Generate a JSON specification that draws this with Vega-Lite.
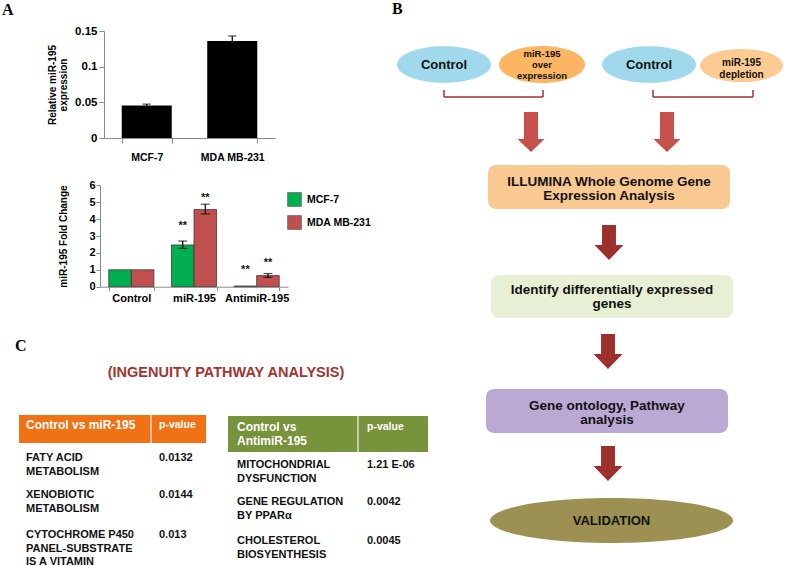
{
  "$schema": "https://vega.github.io/schema/vega-lite/v6.json",
  "width": 787,
  "height": 566,
  "padding": 0,
  "autosize": {"type": "none"},
  "background": "#ffffff",
  "config": {"font": "Liberation Sans", "view": {"stroke": null}, "axis": {"grid": false}},
  "resolve": {"scale": {"x": "independent", "y": "independent"}},
  "layer": [
    {
      "encoding": {
        "x": {"field": "x", "type": "quantitative", "scale": {"domain": [0, 787], "range": [0, 787], "nice": false, "zero": false}, "axis": null},
        "y": {"field": "y", "type": "quantitative", "scale": {"domain": [0, 566], "range": [0, 566], "nice": false, "zero": false}, "axis": null}
      },
      "layer": [
        {"data": {"values": [{"x": 488, "x2": 730, "y": 165, "y2": 209}]},
         "mark": {"type": "rect", "color": "#fac891", "cornerRadius": 8},
         "encoding": {"x2": {"field": "x2"}, "y2": {"field": "y2"}}},
        {"data": {"values": [{"x": 491, "x2": 733, "y": 275, "y2": 318}]},
         "mark": {"type": "rect", "color": "#e7f0d4", "cornerRadius": 8},
         "encoding": {"x2": {"field": "x2"}, "y2": {"field": "y2"}}},
        {"data": {"values": [{"x": 486, "x2": 728, "y": 389, "y2": 433}]},
         "mark": {"type": "rect", "color": "#bba9d4", "cornerRadius": 8},
         "encoding": {"x2": {"field": "x2"}, "y2": {"field": "y2"}}},
        {"data": {"values": [{"x": 19, "x2": 206, "y": 415, "y2": 443}]},
         "mark": {"type": "rect", "color": "#f07215"},
         "encoding": {"x2": {"field": "x2"}, "y2": {"field": "y2"}}},
        {"data": {"values": [{"x": 228, "x2": 428, "y": 416, "y2": 452}]},
         "mark": {"type": "rect", "color": "#77933c"},
         "encoding": {"x2": {"field": "x2"}, "y2": {"field": "y2"}}},
        {"data": {"values": [{"x": 151, "x2": 151, "y": 415, "y2": 443}, {"x": 358, "x2": 358, "y": 416, "y2": 452}]},
         "mark": {"type": "rule", "color": "#f4f4f4", "strokeWidth": 1.2},
         "encoding": {"x2": {"field": "x2"}, "y2": {"field": "y2"}}},
        {"data": {"values": [
          {"x": 444, "x2": 543, "y": 97, "y2": 97},
          {"x": 444, "x2": 444, "y": 90, "y2": 97},
          {"x": 543, "x2": 543, "y": 90, "y2": 97},
          {"x": 653, "x2": 753, "y": 97, "y2": 97},
          {"x": 653, "x2": 653, "y": 90, "y2": 97},
          {"x": 753, "x2": 753, "y": 90, "y2": 97}]},
         "mark": {"type": "rule", "color": "#a3312d", "strokeWidth": 1.5},
         "encoding": {"x2": {"field": "x2"}, "y2": {"field": "y2"}}},
        {"data": {"values": [{"x": 444, "y": 64.5, "t": "Control"}, {"x": 649, "y": 64.5, "t": "Control"}]},
         "mark": {"type": "point", "filled": true, "opacity": 1, "color": "#a1d9ec", "size": 8836, "shape": "M-1,0A1,0.39,0,0,1,1,0A1,0.39,0,0,1,-1,0Z"}},
        {"data": {"values": [{"x": 542, "y": 64.5, "t": "miR-195 over expression"}]},
         "mark": {"type": "point", "filled": true, "opacity": 1, "color": "#fcb563", "size": 7396, "shape": "M-1,0A1,0.43,0,0,1,1,0A1,0.43,0,0,1,-1,0Z"}},
        {"data": {"values": [{"x": 741.5, "y": 65.5, "t": "miR-195 depletion"}]},
         "mark": {"type": "point", "filled": true, "opacity": 1, "color": "#fdca92", "size": 6889, "shape": "M-1,0A1,0.4,0,0,1,1,0A1,0.4,0,0,1,-1,0Z"}},
        {"data": {"values": [{"x": 611.5, "y": 520.5, "t": "VALIDATION"}]},
         "mark": {"type": "point", "filled": true, "opacity": 1, "color": "#9c9153", "size": 59049, "shape": "M-1,0A1,0.185,0,0,1,1,0A1,0.185,0,0,1,-1,0Z"}},
        {"data": {"values": [{"x": 531, "y": 132}, {"x": 667, "y": 132}]},
         "mark": {"type": "point", "filled": true, "opacity": 1, "color": "#c6504c", "size": 729, "shape": "M-0.52,-1.48L0.52,-1.48L0.52,0.52L1,0.52L0,1.48L-1,0.52L-0.52,0.52Z"}},
        {"data": {"values": [{"x": 609, "y": 242.5}, {"x": 608, "y": 351.5}, {"x": 608, "y": 463.5}]},
         "mark": {"type": "point", "filled": true, "opacity": 1, "color": "#9b302c", "size": 841, "shape": "M-0.48,-1.21L0.48,-1.21L0.48,0.17L1,0.17L0,1.21L-1,0.17L-0.48,0.17Z"}},
        {"data": {"values": [{"x": 2, "y": 15, "t": "A"}, {"x": 392, "y": 14, "t": "B"}, {"x": 15, "y": 351, "t": "C"}]},
         "mark": {"type": "text", "font": "Liberation Serif", "fontSize": 16, "fontWeight": "bold", "align": "left", "baseline": "alphabetic", "color": "#000"},
         "encoding": {"text": {"field": "t"}}},
        {"data": {"values": [{"x": 444, "y": 64.5, "t": "Control"}, {"x": 649, "y": 64.5, "t": "Control"}, {"x": 611.5, "y": 520.5, "t": "VALIDATION"}]},
         "mark": {"type": "text", "fontSize": 13, "fontWeight": "bold", "align": "center", "baseline": "middle", "color": "#111"},
         "encoding": {"text": {"field": "t"}}},
        {"data": {"values": [{"x": 542, "y": 49, "t": "miR-195\nover\nexpression"}]},
         "mark": {"type": "text", "fontSize": 9.5, "lineHeight": 11, "lineBreak": "\n", "fontWeight": "bold", "align": "center", "baseline": "top", "color": "#111"},
         "encoding": {"text": {"field": "t"}}},
        {"data": {"values": [{"x": 741.5, "y": 58, "t": "miR-195\ndepletion"}]},
         "mark": {"type": "text", "fontSize": 10, "lineHeight": 12, "lineBreak": "\n", "fontWeight": "bold", "align": "center", "baseline": "top", "color": "#111"},
         "encoding": {"text": {"field": "t"}}},
        {"data": {"values": [
          {"x": 609, "y": 175, "t": "ILLUMINA Whole Genome Gene\nExpression Analysis"},
          {"x": 612, "y": 283, "t": "Identify differentially expressed\ngenes"},
          {"x": 607, "y": 399, "t": "Gene ontology, Pathway\nanalysis"}]},
         "mark": {"type": "text", "fontSize": 13.5, "lineHeight": 14, "lineBreak": "\n", "fontWeight": "bold", "align": "center", "baseline": "top", "color": "#111"},
         "encoding": {"text": {"field": "t"}}},
        {"data": {"values": [{"x": 226, "y": 366, "t": "(INGENUITY PATHWAY ANALYSIS)"}]},
         "mark": {"type": "text", "fontSize": 14.5, "fontWeight": "bold", "align": "center", "baseline": "top", "color": "#a3342f"},
         "encoding": {"text": {"field": "t"}}},
        {"data": {"values": [{"x": 26, "y": 420, "t": "Control vs miR-195"}, {"x": 237, "y": 422, "t": "Control vs\nAntimiR-195"}]},
         "mark": {"type": "text", "fontSize": 12, "lineHeight": 14, "lineBreak": "\n", "fontWeight": "bold", "align": "left", "baseline": "top", "color": "#ffffff"},
         "encoding": {"text": {"field": "t"}}},
        {"data": {"values": [{"x": 159, "y": 420, "t": "p-value"}, {"x": 367, "y": 422, "t": "p-value"}]},
         "mark": {"type": "text", "fontSize": 10.5, "fontWeight": "bold", "align": "left", "baseline": "top", "color": "#ffffff"},
         "encoding": {"text": {"field": "t"}}},
        {"data": {"values": [
          {"x": 26, "y": 452, "t": "FATY ACID\nMETABOLISM"},
          {"x": 26, "y": 489, "t": "XENOBIOTIC\nMETABOLISM"},
          {"x": 26, "y": 529, "t": "CYTOCHROME  P450\nPANEL-SUBSTRATE\nIS A VITAMIN"},
          {"x": 237, "y": 459, "t": "MITOCHONDRIAL\nDYSFUNCTION"},
          {"x": 237, "y": 496, "t": "GENE REGULATION\nBY PPARα"},
          {"x": 237, "y": 535, "t": "CHOLESTEROL\nBIOSYENTHESIS"}]},
         "mark": {"type": "text", "fontSize": 11, "lineHeight": 13.5, "lineBreak": "\n", "fontWeight": "bold", "align": "left", "baseline": "top", "color": "#111"},
         "encoding": {"text": {"field": "t"}}},
        {"data": {"values": [
          {"x": 159, "y": 452, "t": "0.0132"},
          {"x": 159, "y": 489, "t": "0.0144"},
          {"x": 159, "y": 529, "t": "0.013"},
          {"x": 367, "y": 459, "t": "1.21 E-06"},
          {"x": 367, "y": 496, "t": "0.0042"},
          {"x": 367, "y": 535, "t": "0.0045"}]},
         "mark": {"type": "text", "fontSize": 11, "fontWeight": "bold", "align": "left", "baseline": "top", "color": "#111"},
         "encoding": {"text": {"field": "t"}}}
      ]
    },
    {
      "data": {"values": [
        {"cell": "MCF-7", "value": 0.0455, "lo": 0.0435, "hi": 0.0475},
        {"cell": "MDA MB-231", "value": 0.136, "lo": 0.129, "hi": 0.143}]},
      "encoding": {
        "x": {"field": "cell", "type": "nominal", "sort": null,
          "scale": {"range": [104, 275], "paddingInner": 0.415, "paddingOuter": 0.2075},
          "axis": {"orient": "bottom", "offset": -428, "title": null, "labelAngle": 0, "tickBand": "extent", "tickSize": 5, "labelPadding": 9, "labelFontSize": 10.5, "labelFontWeight": "bold", "labelColor": "#000", "domainColor": "#8a8a8a", "tickColor": "#8a8a8a"}}
      },
      "layer": [
        {"mark": {"type": "bar", "color": "#000"},
         "encoding": {"y": {"field": "value", "type": "quantitative",
           "scale": {"domain": [0, 0.15], "range": [138, 31], "nice": false, "zero": true},
           "axis": {"orient": "left", "offset": -104, "title": ["Relative miR-195", "expression"], "values": [0, 0.05, 0.1, 0.15], "format": "~g", "tickSize": 5, "labelPadding": 2, "labelFontSize": 11.5, "labelFontWeight": "bold", "labelColor": "#000", "titleFontSize": 10, "titleFontWeight": "bold", "titleColor": "#000", "titlePadding": 6, "titleLineHeight": 11, "domainColor": "#8a8a8a", "tickColor": "#8a8a8a"}}}},
        {"mark": {"type": "rule", "color": "#000", "strokeWidth": 1.2},
         "encoding": {"y": {"field": "lo", "type": "quantitative"}, "y2": {"field": "hi"}}},
        {"mark": {"type": "tick", "color": "#000", "size": 8, "thickness": 1.2},
         "encoding": {"y": {"field": "hi", "type": "quantitative"}}}
      ]
    },
    {
      "data": {"values": [
        {"treatment": "Control", "cell": "MCF-7", "fold": 1.0, "lo": 1.0, "hi": 1.0, "sig": "", "sig_y": 0},
        {"treatment": "Control", "cell": "MDA MB-231", "fold": 1.0, "lo": 1.0, "hi": 1.0, "sig": "", "sig_y": 0},
        {"treatment": "miR-195", "cell": "MCF-7", "fold": 2.47, "lo": 2.27, "hi": 2.7, "sig": "**", "sig_y": 3.75},
        {"treatment": "miR-195", "cell": "MDA MB-231", "fold": 4.57, "lo": 4.3, "hi": 4.88, "sig": "**", "sig_y": 5.42},
        {"treatment": "AntimiR-195", "cell": "MCF-7", "fold": 0.04, "lo": 0.04, "hi": 0.04, "sig": "**", "sig_y": 1.15},
        {"treatment": "AntimiR-195", "cell": "MDA MB-231", "fold": 0.66, "lo": 0.55, "hi": 0.78, "sig": "**", "sig_y": 1.58}]},
      "encoding": {
        "x": {"field": "treatment", "type": "nominal", "sort": ["Control", "miR-195", "AntimiR-195"],
          "scale": {"range": [100, 288], "paddingInner": 0.28, "paddingOuter": 0.14},
          "axis": {"orient": "bottom", "offset": -279.3, "title": null, "labelAngle": 0, "tickBand": "extent", "tickSize": 4, "labelPadding": 2, "labelFontSize": 11, "labelFontWeight": "bold", "labelColor": "#000", "domainColor": "#8a8a8a", "tickColor": "#8a8a8a"}},
        "xOffset": {"field": "cell", "type": "nominal", "sort": ["MCF-7", "MDA MB-231"]}
      },
      "layer": [
        {"mark": {"type": "bar", "stroke": "#3a3a3a", "strokeWidth": 0.8},
         "encoding": {
           "y": {"field": "fold", "type": "quantitative",
             "scale": {"domain": [0, 6], "range": [286.7, 185.3], "nice": false, "zero": true},
             "axis": {"orient": "left", "offset": -100, "title": "miR-195 Fold Change", "values": [0, 1, 2, 3, 4, 5, 6], "format": "d", "tickSize": 4, "labelPadding": 1, "labelFontSize": 11, "labelFontWeight": "bold", "labelColor": "#000", "titleFontSize": 10, "titleFontWeight": "bold", "titleColor": "#000", "titlePadding": 20, "domainColor": "#8a8a8a", "tickColor": "#8a8a8a"}},
           "color": {"field": "cell", "type": "nominal",
             "scale": {"domain": ["MCF-7", "MDA MB-231"], "range": ["#00b050", "#c0504d"]},
             "legend": {"orient": "none", "legendX": 287, "legendY": 192, "title": null, "symbolType": "square", "symbolSize": 190, "rowPadding": 6, "labelFontSize": 10.5, "labelFontWeight": "bold", "labelColor": "#000", "labelOffset": 5, "padding": 0, "symbolStrokeWidth": 0.8, "symbolStrokeColor": "#666666", "symbolOpacity": 1}}
         }},
        {"transform": [{"filter": "datum.hi > datum.lo"}],
         "mark": {"type": "rule", "color": "#000", "strokeWidth": 1.2},
         "encoding": {"y": {"field": "lo", "type": "quantitative"}, "y2": {"field": "hi"}}},
        {"transform": [{"filter": "datum.hi > datum.lo"}],
         "mark": {"type": "tick", "color": "#000", "size": 9, "thickness": 1.2},
         "encoding": {"y": {"field": "lo", "type": "quantitative"}}},
        {"transform": [{"filter": "datum.hi > datum.lo"}],
         "mark": {"type": "tick", "color": "#000", "size": 9, "thickness": 1.2},
         "encoding": {"y": {"field": "hi", "type": "quantitative"}}},
        {"transform": [{"filter": "datum.sig != ''"}],
         "mark": {"type": "text", "fontSize": 11, "fontWeight": "bold", "dy": 3, "color": "#111"},
         "encoding": {"y": {"field": "sig_y", "type": "quantitative"}, "text": {"field": "sig"}}}
      ]
    }
  ]
}
